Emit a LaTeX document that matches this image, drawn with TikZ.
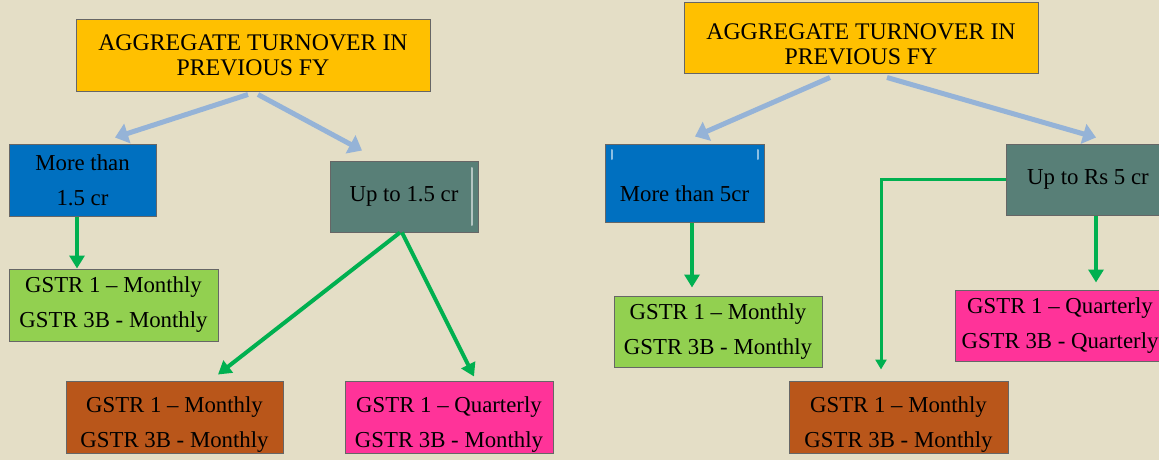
\documentclass[tikz,border=0pt]{standalone}
\usepackage{fontspec}
\setmainfont{Liberation Serif}
\usepackage{tikz}
\usetikzlibrary{calc}
\usetikzlibrary{positioning}
\usetikzlibrary{arrows.meta}

\definecolor{paper}{HTML}{E4DEC6}
\definecolor{gold}{HTML}{FFC000}
\definecolor{sea}{HTML}{0070C0}
\definecolor{slate}{HTML}{587F77}
\definecolor{lime}{HTML}{92D050}
\definecolor{rust}{HTML}{B9561A}
\definecolor{rose}{HTML}{FF3399}
\definecolor{haze}{HTML}{95B3D7}
\definecolor{leaf}{HTML}{00B050}

\begin{document}
\begin{tikzpicture}[x=1pt,y=-1pt,
  box/.style={draw=black!60, line width=1pt, inner sep=0pt, align=center,
              font=\fontsize{22.8}{35}\selectfont},
  txt/.style={inner sep=0pt, align=center, font=\fontsize{22.8}{35}\selectfont},
  head/.style={box, fill=gold, minimum width=354, minimum height=71,
               font=\fontsize{23.8}{25}\selectfont},
  barrow/.style={haze, line width=5pt, -{Triangle[length=13pt,width=20pt]}},
  garrow/.style={leaf, line width=4pt, -{Triangle[length=13pt,width=15pt]}}]
 \path[use as bounding box, fill=paper] (0,0) rectangle (1159,460);

 % left tree
 \node[head] (agg1) at (253,55.5) {AGGREGATE TURNOVER IN\\PREVIOUS FY};
 \node[box, fill=sea, minimum width=147, minimum height=72] (more1) at (82.5,180)
   {More than\\1.5 cr};
 \node[box, fill=slate, minimum width=148, minimum height=71] (up1) at (404,196.5)
   {Up to 1.5 cr};
 \draw[slate!45!white, line width=2pt, line cap=round] (472,168) -- (472,225);
 \node[box, fill=lime, minimum width=209, minimum height=72] (gm1) at (113.5,305)
   {GSTR 1 – Monthly\\GSTR 3B - Monthly};
 \node[box, fill=rust, minimum width=217, minimum height=72] (mm1) at (174.5,417) {};
 \node[txt] (mm1t) at (174.5,424.5) {GSTR 1 – Monthly\\GSTR 3B - Monthly};
 \node[box, fill=rose, minimum width=208, minimum height=72] (qm1) at (449,417) {};
 \node[txt] (qm1t) at (449,424.5) {GSTR 1 – Quarterly\\GSTR 3B - Monthly};

 \draw[barrow] ([xshift=-5pt,yshift=-3pt]agg1.south)
   -- ([xshift=32.5pt,yshift=6pt]more1.north);
 \draw[barrow] ([xshift=5pt,yshift=-3pt]agg1.south)
   -- ([xshift=-42pt,yshift=10pt]up1.north);
 \draw[garrow] ([xshift=-5.5pt]more1.south) -- ([xshift=-36.5pt]gm1.north);
 \draw[garrow] ([xshift=-4pt]up1.south) -- ([xshift=43.5pt,yshift=6pt]mm1.north);
 \draw[garrow] ([xshift=-2pt]up1.south) -- ([xshift=25pt,yshift=4pt]qm1.north);

 % right tree
 \node[head] (agg2) at (861,38.5) {};
 \node[txt, font=\fontsize{23.8}{25}\selectfont] (agg2t) at (861,44.5)
   {AGGREGATE TURNOVER IN\\PREVIOUS FY};
 \node[box, fill=sea, minimum width=159, minimum height=78] (more2) at (684.5,183) {};
 \node[txt] (more2t) at (684.5,194) {More than 5cr};
 \draw[sea!45!white, line width=2pt, line cap=round] (612,150) -- (612,159)
   (758,150) -- (758,159);
 \node[box, fill=slate, minimum width=164, minimum height=71] (up2) at (1088,179.5)
   {Up to Rs 5 cr};
 \node[box, fill=lime, minimum width=208, minimum height=71] (gm2) at (718,331.5)
   {GSTR 1 – Monthly\\GSTR 3B - Monthly};
 \node[box, fill=rose, minimum width=210, minimum height=71] (qq2) at (1060,325.5)
   {GSTR 1 – Quarterly\\GSTR 3B - Quarterly};
 \node[box, fill=rust, minimum width=219, minimum height=72] (mm2) at (898.5,417) {};
 \node[txt] (mm2t) at (898.5,424.5) {GSTR 1 – Monthly\\GSTR 3B - Monthly};

 \draw[barrow] ([xshift=-31pt,yshift=-3pt]agg2.south)
   -- ([xshift=10.5pt,yshift=7pt]more2.north);
 \draw[barrow] ([xshift=26pt,yshift=-3pt]agg2.south)
   -- ([xshift=8pt,yshift=6pt]up2.north);
 \draw[garrow] ([xshift=7.5pt]more2.south) -- ([xshift=-26pt,yshift=8pt]gm2.north);
 \draw[garrow] ([xshift=8pt]up2.south) -- ([xshift=36pt,yshift=7pt]qq2.north);
 \draw[leaf, line width=3pt, -{Triangle[length=10pt,width=11pt]}]
   (up2.west) -| ([xshift=-17.5pt,yshift=11pt]mm2.north);
\end{tikzpicture}
\end{document}
